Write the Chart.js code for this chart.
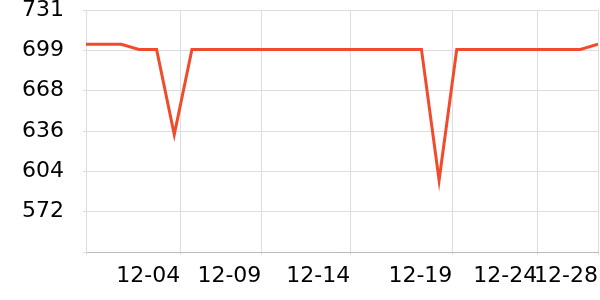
<!DOCTYPE html>
<html>
<head>
<meta charset="utf-8">
<script src="https://cdn.jsdelivr.net/npm/chart.js@4"></script>
<style>
  html, body { margin: 0; padding: 0; background: #fff; }
  #wrap { width: 600px; height: 300px; }
</style>
</head>
<body>
<div id="wrap"><canvas id="priceChart"></canvas></div>
<script>
// values, one per day
const days = ['11-29', '11-30', '12-01', '12-02', '12-03', '12-04', '12-05', '12-06', '12-07', '12-08',
  '12-09', '12-10', '12-11', '12-12', '12-13', '12-14', '12-15', '12-16', '12-17', '12-18',
  '12-19', '12-20', '12-21', '12-22', '12-23', '12-24', '12-25', '12-26', '12-27', '12-28'];
const prices = [704, 704, 704, 700, 700, 633, 700, 700, 700, 700,
  700, 700, 700, 700, 700, 700, 700, 700, 700, 700,
  597, 700, 700, 700, 700, 700, 700, 700, 700, 704];

// axis ticks as they appear in the reference
const xTickPos = [0, 5.34, 9.93, 14.97, 20.75, 25.56, 29];
const xTickLabels = ['', '12-04', '12-09', '12-14', '12-19', '12-24', '12-28'];
const yTickPos = [540.5, 572.25, 604, 635.75, 667.5, 699.25, 731];
const yTickLabels = ['', '572', '604', '636', '668', '699', '731'];

const points = prices.map((v, i) => ({ x: i, y: v }));

const ctx = document.getElementById('priceChart').getContext('2d');
const priceChart = new Chart(ctx, {
  type: 'line',
  data: {
    datasets: [{
      label: 'Price',
      data: points,
      borderColor: '#ef4b2c',
      borderWidth: 3,
      pointRadius: 0,
      tension: 0,
      fill: false
    }]
  },
  options: {
    responsive: true,
    maintainAspectRatio: false,
    animation: false,
    layout: { padding: { top: 10, right: 2, left: 0, bottom: 0 } },
    plugins: { legend: { display: false }, tooltip: { enabled: false } },
    scales: {
      x: {
        type: 'linear',
        min: 0,
        max: 29,
        afterBuildTicks: (axis) => { axis.ticks = xTickPos.map(v => ({ value: v })); },
        afterFit: (axis) => { axis.height = 48; axis.paddingLeft = 0; axis.paddingRight = 0; },
        grid: { color: '#dddddd', tickLength: 3 },
        border: { color: '#bbbbbb' },
        ticks: {
          autoSkip: false,
          maxRotation: 0,
          align: 'end',
          padding: 8,
          color: '#000',
          font: { family: 'DejaVu Sans', size: 22 },
          callback: (v, i) => xTickLabels[i]
        }
      },
      y: {
        min: 540.5,
        max: 731,
        afterBuildTicks: (axis) => { axis.ticks = yTickPos.map(v => ({ value: v })); },
        afterFit: (axis) => { axis.width = 86; axis.paddingTop = 0; axis.paddingBottom = 0; },
        grid: { color: '#dddddd', tickLength: 3 },
        border: { color: '#dddddd' },
        ticks: {
          padding: 19,
          color: '#000',
          font: { family: 'DejaVu Sans', size: 22 },
          callback: (v, i) => yTickLabels[i]
        }
      }
    }
  }
});
</script>
</body>
</html>
